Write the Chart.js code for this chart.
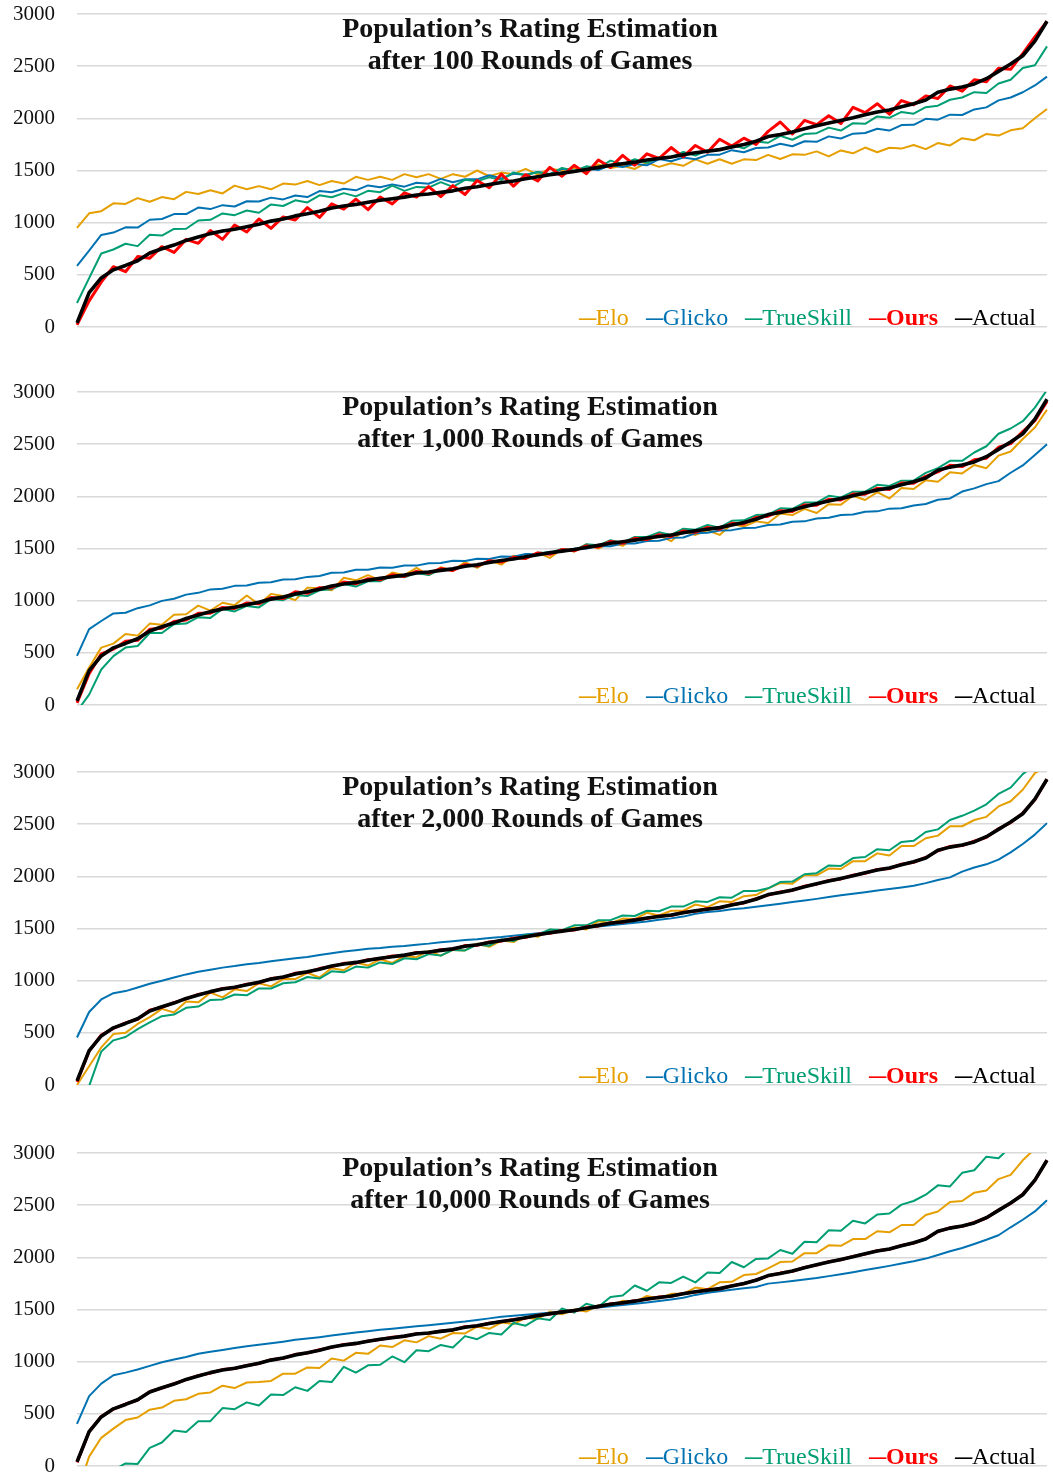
<!DOCTYPE html>
<html><head><meta charset="utf-8">
<script src="https://cdn.jsdelivr.net/npm/chart.js@4.4.0/dist/chart.umd.min.js"></script>
<style>
html,body{margin:0;padding:0;background:#fff}
body{width:1053px;height:1474px;position:relative;overflow:hidden;font-family:"Liberation Serif","DejaVu Serif",serif}
.panel{position:absolute;left:0;width:1053px;height:341px}
.panel canvas{position:absolute;left:0;top:0}
.title{position:absolute;left:230px;width:600px;text-align:center;font-weight:bold;font-size:28px;line-height:32px;color:#111;white-space:nowrap}
.legend{position:absolute;right:17px;font-size:24px;line-height:26px;white-space:nowrap}
.legend .it{margin-left:17px}
.legend .d{display:inline-block;font-weight:bold;transform:scaleX(0.72);transform-origin:left center;margin-right:-7px}
</style></head><body>
<script>
// sampled players (rank order)
const players = [1,2,3,4,5,6,7,8,9,10,11,12,13,14,15,16,17,18,19,20,21,22,23,24,25,26,27,28,29,30,31,32,33,34,35,36,37,38,39,40,41,42,43,44,45,46,47,48,49,50,51,52,53,54,55,56,57,58,59,60,61,62,63,64,65,66,67,68,69,70,71,72,73,74,75,76,77,78,79,80,81];
const yTicks = [0,500,1000,1500,2000,2500,3000];
const seriesNames = ["Elo","Glicko","TrueSkill","Ours","Actual"];
const titleLine1 = "Population’s Rating Estimation";
const titleLine2 = ["after 100 Rounds of Games","after 1,000 Rounds of Games","after 2,000 Rounds of Games","after 10,000 Rounds of Games"];

const actual = [40,330,470,548,590,635,710,750,785,830,
862,895,920,937,960,985,1015,1035,1065,1085,
1110,1140,1160,1175,1195,1215,1230,1245,1265,1275,
1290,1305,1330,1345,1365,1385,1400,1420,1440,1460,
1475,1490,1510,1530,1550,1565,1580,1600,1615,1630,
1650,1670,1685,1700,1725,1750,1780,1825,1845,1870,
1900,1930,1955,1980,2005,2035,2060,2080,2110,2140,
2175,2250,2280,2300,2330,2380,2450,2520,2600,2740,
2930];

// ---- after 100 rounds ----
const elo100 = [950,1090,1110,1185,1180,1235,1200,1245,1225,1295,
1275,1310,1280,1355,1320,1350,1320,1375,1365,1400,
1360,1400,1375,1440,1410,1440,1410,1465,1435,1465,
1420,1465,1440,1500,1445,1480,1465,1515,1460,1518,
1500,1527,1495,1558,1525,1545,1515,1575,1535,1570,
1545,1607,1565,1608,1565,1607,1600,1650,1610,1655,
1650,1683,1635,1692,1665,1720,1675,1718,1710,1745,
1705,1763,1740,1810,1790,1850,1835,1885,1905,2000,
2090];
const glicko100 = [587,732,882,905,955,953,1028,1035,1082,1082,
1145,1130,1168,1155,1205,1203,1240,1223,1260,1245,
1303,1292,1325,1310,1357,1340,1367,1345,1383,1373,
1420,1387,1417,1415,1455,1423,1470,1460,1485,1467,
1517,1497,1520,1505,1553,1533,1563,1550,1610,1588,
1624,1608,1650,1652,1695,1675,1715,1720,1756,1732,
1780,1775,1827,1807,1853,1860,1900,1883,1935,1938,
1995,1987,2035,2032,2085,2105,2172,2200,2250,2315,
2400];
const trueskill100 = [230,468,705,743,798,775,885,876,940,942,
1021,1027,1088,1072,1117,1095,1175,1160,1214,1194,
1262,1243,1283,1252,1305,1292,1355,1305,1343,1336,
1388,1343,1411,1398,1434,1410,1482,1455,1485,1462,
1525,1497,1540,1524,1595,1561,1608,1573,1627,1625,
1678,1644,1694,1697,1745,1712,1778,1766,1832,1795,
1850,1858,1911,1883,1954,1947,2018,2005,2061,2045,
2107,2121,2178,2200,2251,2242,2334,2370,2482,2509,
2690];
const ours100 = [20,250,430,578,530,675,660,770,715,840,
802,925,840,977,910,1035,945,1055,1025,1145,
1050,1180,1130,1225,1125,1245,1180,1285,1245,1345,
1250,1355,1270,1405,1335,1465,1350,1460,1400,1530,
1445,1550,1470,1600,1530,1645,1550,1660,1615,1720,
1630,1740,1675,1800,1735,1810,1750,1875,1965,1850,
1980,1940,2025,1950,2105,2055,2140,2040,2170,2130,
2215,2190,2310,2260,2370,2350,2480,2470,2620,2780,
2930];

// ---- after 1,000 rounds ----
const elo1000 = [150,360,550,588,680,665,780,770,865,870,
952,905,980,957,1050,965,1065,1045,1005,1125,
1120,1100,1220,1195,1245,1195,1270,1245,1315,1245,
1320,1285,1370,1315,1385,1345,1430,1410,1460,1410,
1495,1470,1540,1500,1560,1525,1600,1570,1625,1570,
1670,1630,1675,1630,1735,1710,1760,1745,1835,1820,
1880,1840,1925,1920,2005,1965,2040,1980,2080,2070,
2155,2140,2230,2220,2300,2270,2390,2430,2550,2660,
2830];
const glicko1000 = [470,728,805,878,884,928,955,998,1018,1058,
1075,1108,1114,1142,1145,1172,1176,1203,1205,1228,
1236,1268,1270,1297,1296,1318,1315,1337,1336,1358,
1360,1382,1380,1402,1400,1423,1420,1447,1445,1470,
1470,1497,1500,1523,1522,1547,1548,1572,1575,1602,
1605,1646,1650,1672,1676,1697,1700,1725,1730,1757,
1760,1787,1795,1822,1826,1852,1856,1882,1886,1912,
1926,1967,1980,2046,2076,2117,2146,2226,2296,2396,
2500];
const trueskill1000 = [-60,100,340,468,550,565,690,690,775,780,
842,835,920,897,950,935,1015,1005,1055,1045,
1100,1110,1160,1135,1185,1185,1240,1225,1265,1245,
1300,1295,1340,1325,1385,1375,1410,1400,1460,1460,
1495,1480,1540,1530,1580,1555,1610,1610,1655,1630,
1690,1680,1725,1700,1765,1770,1820,1825,1885,1880,
1940,1940,2005,1990,2045,2045,2110,2100,2150,2150,
2225,2270,2340,2340,2420,2480,2600,2650,2720,2850,
3020];
const ours1000 = [20,300,490,535,610,620,725,735,800,815,
880,880,935,925,978,970,1030,1020,1085,1070,
1125,1125,1178,1162,1210,1200,1248,1232,1280,1262,
1308,1290,1345,1332,1382,1370,1415,1405,1458,1445,
1490,1478,1525,1515,1568,1550,1598,1585,1632,1615,
1668,1655,1702,1685,1742,1735,1798,1810,1862,1855,
1918,1915,1972,1965,2022,2020,2078,2065,2128,2125,
2192,2235,2298,2285,2350,2365,2470,2505,2620,2725,
2910];

// ---- after 2,000 rounds ----
const elo2000 = [0,180,360,488,500,585,650,730,695,800,
792,885,840,917,900,975,945,1015,1015,1075,
1030,1120,1100,1175,1145,1205,1170,1235,1225,1285,
1240,1295,1290,1355,1325,1385,1370,1440,1420,1490,
1465,1510,1490,1570,1550,1595,1590,1650,1625,1670,
1670,1730,1705,1760,1755,1810,1820,1885,1935,1930,
2010,2010,2075,2070,2145,2145,2220,2200,2290,2290,
2365,2390,2480,2480,2540,2570,2670,2720,2830,2990,
3050];
const glicko2000 = [455,700,820,880,900,935,970,1000,1030,1060,
1085,1105,1125,1140,1158,1170,1186,1200,1215,1226,
1245,1262,1280,1292,1305,1314,1326,1333,1345,1355,
1368,1378,1390,1398,1410,1418,1430,1442,1455,1466,
1478,1492,1506,1518,1532,1542,1556,1568,1584,1597,
1614,1642,1658,1668,1684,1694,1708,1722,1738,1754,
1768,1784,1802,1818,1834,1848,1864,1878,1894,1910,
1935,1965,1990,2045,2085,2115,2160,2230,2310,2400,
2510];
const trueskill2000 = [-160,-10,320,428,460,535,600,660,675,740,
752,815,820,867,860,925,925,975,985,1035,
1020,1090,1080,1135,1125,1175,1160,1215,1205,1255,
1240,1295,1290,1345,1335,1395,1380,1440,1440,1490,
1485,1530,1530,1580,1580,1625,1620,1670,1665,1710,
1710,1760,1755,1800,1795,1860,1860,1885,1945,1950,
2020,2030,2105,2100,2175,2185,2260,2250,2330,2340,
2425,2450,2540,2580,2630,2690,2790,2850,2980,3070,
3150];
const ours2000 = [30,325,478,542,596,630,716,745,790,826,
868,890,926,932,966,980,1020,1030,1071,1080,
1116,1135,1166,1170,1201,1210,1236,1240,1271,1270,
1296,1300,1336,1340,1371,1380,1406,1415,1446,1455,
1481,1485,1516,1525,1556,1560,1586,1595,1621,1625,
1656,1665,1691,1695,1731,1745,1786,1820,1851,1865,
1906,1925,1961,1975,2011,2030,2066,2075,2116,2135,
2181,2245,2286,2295,2336,2375,2456,2515,2606,2735,
2930];

// ---- after 10,000 rounds ----
const elo10000 = [-260,90,270,358,440,465,540,560,625,640,
692,705,770,747,800,805,815,885,885,945,
940,1030,1010,1085,1075,1155,1140,1205,1185,1245,
1220,1275,1270,1335,1315,1375,1360,1420,1410,1480,
1455,1500,1480,1540,1530,1585,1570,1630,1605,1650,
1650,1710,1695,1760,1765,1830,1840,1895,1955,1960,
2040,2040,2115,2110,2175,2175,2250,2240,2310,2310,
2405,2440,2530,2540,2620,2640,2750,2790,2930,3040,
3150];
const glicko10000 = [404,670,790,870,895,925,960,995,1020,1045,
1075,1095,1112,1130,1148,1162,1176,1192,1210,1222,
1235,1250,1265,1280,1292,1305,1316,1328,1340,1350,
1362,1373,1385,1400,1415,1430,1440,1450,1460,1470,
1482,1494,1506,1518,1530,1542,1555,1568,1582,1596,
1612,1640,1660,1676,1690,1703,1716,1748,1760,1773,
1788,1802,1820,1838,1858,1878,1898,1918,1940,1962,
1988,2022,2058,2090,2128,2168,2212,2288,2360,2440,
2548];
const trueskill10000 = [-475,-435,-230,-40,25,20,174,225,340,325,
430,430,555,545,610,580,685,680,755,720,
815,805,950,895,965,970,1050,995,1110,1100,
1160,1135,1245,1215,1275,1260,1370,1345,1415,1400,
1510,1470,1555,1525,1620,1635,1730,1680,1760,1755,
1815,1760,1855,1850,1955,1905,1985,1990,2070,2035,
2150,2145,2260,2255,2350,2325,2410,2420,2505,2540,
2600,2690,2680,2810,2835,2965,2950,3060,3075,3215,
3240];
const ours10000 = [35,328,474,545,594,632,713,747,788,828,
866,892,924,934,964,982,1019,1032,1069,1082,
1114,1137,1164,1172,1199,1212,1234,1242,1269,1272,
1294,1302,1334,1342,1369,1382,1404,1417,1444,1457,
1479,1487,1514,1527,1554,1562,1584,1597,1619,1627,
1654,1667,1689,1697,1729,1747,1784,1822,1849,1867,
1904,1927,1959,1977,2009,2032,2064,2077,2114,2137,
2179,2247,2284,2297,2334,2377,2454,2517,2604,2737,
2930];

const panelData = [
  [elo100, glicko100, trueskill100, ours100, actual],
  [elo1000, glicko1000, trueskill1000, ours1000, actual],
  [elo2000, glicko2000, trueskill2000, ours2000, actual],
  [elo10000, glicko10000, trueskill10000, ours10000, actual]
];

// ---- styling ----
const colors = ["#E69F00","#0072B2","#009E73","#FF0000","#000000"];
const widths = [2,2,2,3,3.6];
const panelTops = [0,378,758,1139];
const PAD_T = 14, PAD_B = 14, PLOT_LEFT = 77, PLOT_RIGHT = 1047, W = 1053, H = 341;

panelData.forEach((series, p) => {
  const wrap = document.createElement('div');
  wrap.className = 'panel';
  wrap.style.top = panelTops[p] + 'px';
  const cv = document.createElement('canvas');
  cv.width = W; cv.height = H;
  cv.style.width = W + 'px'; cv.style.height = H + 'px';
  wrap.appendChild(cv);

  const t = document.createElement('div');
  t.className = 'title';
  t.style.top = (PAD_T - 2) + 'px';
  t.innerHTML = titleLine1 + '<br>' + titleLine2[p];
  wrap.appendChild(t);

  const lg = document.createElement('div');
  lg.className = 'legend';
  lg.style.top = (H - PAD_B - 23) + 'px';
  lg.innerHTML = seriesNames.map((n, i) =>
    '<span class="it" style="color:' + colors[i] + (n === 'Ours' ? ';font-weight:bold' : '') + '"><span class="d">—</span>' + n + '</span>'
  ).join('');
  wrap.appendChild(lg);
  document.body.appendChild(wrap);

  // draw order: Actual on top, then Ours, TrueSkill, Glicko, Elo
  const datasets = [];
  for (let i = series.length - 1; i >= 0; i--) {
    datasets.push({
      label: seriesNames[i],
      data: series[i],
      borderColor: colors[i],
      backgroundColor: colors[i],
      borderWidth: widths[i],
      pointRadius: 0,
      tension: 0,
      fill: false,
      borderJoinStyle: 'round'
    });
  }

  new Chart(cv.getContext('2d'), {
    type: 'line',
    data: { labels: players, datasets },
    options: {
      responsive: false,
      animation: false,
      devicePixelRatio: 1,
      layout: { padding: { top: PAD_T, bottom: PAD_B, left: 0, right: W - PLOT_RIGHT } },
      plugins: { legend: { display: false }, tooltip: { enabled: false }, title: { display: false } },
      scales: {
        x: { display: false, offset: false },
        y: {
          min: yTicks[0], max: yTicks[yTicks.length - 1],
          afterBuildTicks: (s) => { s.ticks = yTicks.map(v => ({ value: v })); },
          afterFit: (s) => { s.width = PLOT_LEFT; s.paddingTop = 0; s.paddingBottom = 0; },
          border: { display: false },
          grid: { color: '#d9d9d9', lineWidth: 1.5, drawTicks: false },
          ticks: {
            padding: 22,
            color: '#111111',
            font: { family: '"Liberation Serif", serif', size: 21 },
            callback: (v) => String(v)
          }
        }
      }
    }
  });
});
</script>
</body></html>
